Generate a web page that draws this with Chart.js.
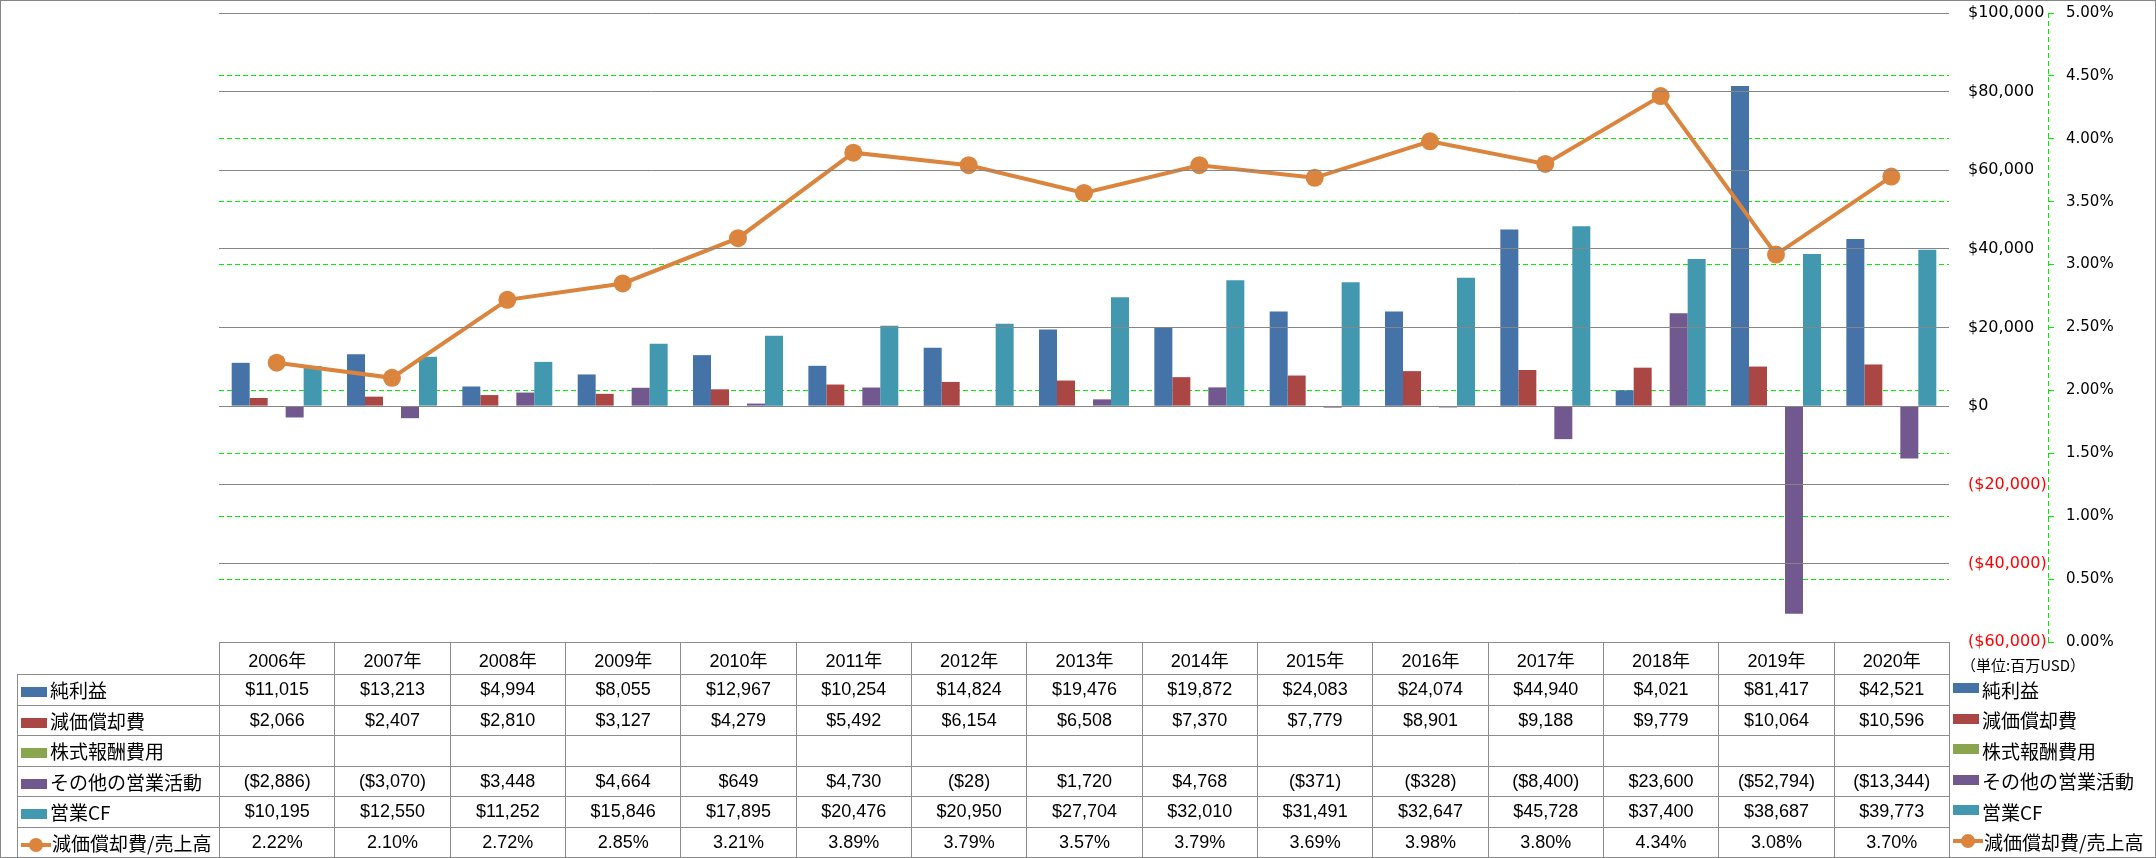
<!DOCTYPE html>
<html lang="ja">
<head>
<meta charset="utf-8">
<title>キャッシュフロー推移</title>
<script src="https://cdn.jsdelivr.net/npm/chart.js@4.4.0/dist/chart.umd.min.js"></script>
<style>
    html, body { margin: 0; padding: 0; background: #fff; }
    #wrap { position: relative; width: 2156px; height: 858px; overflow: hidden; }
    #chart { position: absolute; left: 0; top: 0; }
    #frame {
        position: absolute; left: 0; top: 0; width: 2156px; height: 858px;
        box-sizing: border-box; border: 1px solid #868686; pointer-events: none;
    }
    #dataTable {
        position: absolute; border-collapse: collapse; table-layout: fixed;
        font-family: "Liberation Sans", "Noto Sans CJK JP", sans-serif;
        font-size: 18px; color: #000;
    }
    #dataTable td {
        border: 1px solid #8c8c8c; padding: 0; text-align: center;
        white-space: nowrap; overflow: hidden;
    }
    #dataTable td.corner { border-top: none; border-left: none; }
    #dataTable td.name {
        text-align: left; padding-left: 3px;
        font-family: "Noto Sans CJK JP", sans-serif; font-size: 19px;
    }
    .key { display: inline-block; width: 26px; height: 10px; margin-right: 3px; vertical-align: middle; position: relative; top: -1px; }
    .lineKey { display: inline-block; width: 30px; height: 14px; margin-right: 1px; vertical-align: middle; position: relative; top: -1px; }
    .lineKey::before { content: ""; position: absolute; left: 0; right: 0; top: 5px; height: 4px; background: #DB843D; }
    .lineKey::after { content: ""; position: absolute; left: 8px; top: 0; width: 14px; height: 14px; border-radius: 50%; background: #DB843D; }
    #sideLegend {
        position: absolute; font-family: "Noto Sans CJK JP", sans-serif; font-size: 19px; color: #000;
    }
    #sideLegend div { white-space: nowrap; display: flex; align-items: center; }
    #unit {
        position: absolute; font-family: "Noto Sans CJK JP", sans-serif; font-size: 15px; color: #000;
        white-space: nowrap;
    }
</style>
</head>
<body>
<div id="wrap">
    <canvas id="chart" width="2156" height="858"></canvas>
    <table id="dataTable"></table>
    <div id="sideLegend"></div>
    <div id="unit">（単位:百万USD）</div>
    <div id="frame"></div>
</div>
<script>
// ---- データ (単位: 百万USD) ----
const years = ['2006年', '2007年', '2008年', '2009年', '2010年', '2011年', '2012年', '2013年',
               '2014年', '2015年', '2016年', '2017年', '2018年', '2019年', '2020年'];
const netIncome    = [11015, 13213, 4994, 8055, 12967, 10254, 14824, 19476, 19872, 24083, 24074, 44940, 4021, 81417, 42521];
const depreciation = [2066, 2407, 2810, 3127, 4279, 5492, 6154, 6508, 7370, 7779, 8901, 9188, 9779, 10064, 10596];
const stockComp    = [null, null, null, null, null, null, null, null, null, null, null, null, null, null, null];
const otherOps     = [-2886, -3070, 3448, 4664, 649, 4730, -28, 1720, 4768, -371, -328, -8400, 23600, -52794, -13344];
const operatingCF  = [10195, 12550, 11252, 15846, 17895, 20476, 20950, 27704, 32010, 31491, 32647, 45728, 37400, 38687, 39773];
const deprToSales  = [2.22, 2.10, 2.72, 2.85, 3.21, 3.89, 3.79, 3.57, 3.79, 3.69, 3.98, 3.80, 4.34, 3.08, 3.70];

// 軸の範囲
const usdMin = -60000, usdMax = 100000, usdStep = 20000;
const pctMin = 0, pctMax = 5, pctStep = 0.5;

// 色 (Excel 2007 系)
const COLORS = {
    net: '#4572A7',
    dep: '#AA4643',
    stock: '#89A54E',
    other: '#71588F',
    cf: '#4198AF',
    ratio: '#DB843D',
    grid: '#868686',
    green: '#00EE00'
};

function fmtUsd(v) {
    if (v === null || v === undefined) return '';
    const s = '$' + Math.abs(v).toLocaleString('en-US');
    return v < 0 ? '(' + s + ')' : s;
}
function fmtPct(v) {
    return v.toFixed(2) + '%';
}

const series = [
    { label: '純利益',           color: COLORS.net,   data: netIncome,    fmt: fmtUsd },
    { label: '減価償却費',       color: COLORS.dep,   data: depreciation, fmt: fmtUsd },
    { label: '株式報酬費用',     color: COLORS.stock, data: stockComp,    fmt: fmtUsd },
    { label: 'その他の営業活動', color: COLORS.other, data: otherOps,     fmt: fmtUsd },
    { label: '営業CF',           color: COLORS.cf,    data: operatingCF,  fmt: fmtUsd },
    { label: '減価償却費/売上高', color: COLORS.ratio, data: deprToSales,  fmt: fmtPct, line: true }
];

// 第2軸の点線 (軸線)
const dashedAxisLine = {
    id: 'dashedAxisLine',
    afterDraw(chart) {
        const s = chart.scales.y1;
        const ctx = chart.ctx;
        ctx.save();
        ctx.strokeStyle = COLORS.green;
        ctx.lineWidth = 1;
        ctx.setLineDash([5, 3]);
        ctx.beginPath();
        ctx.moveTo(Math.round(s.left) + 0.5, s.top);
        ctx.lineTo(Math.round(s.left) + 0.5, s.bottom);
        ctx.stroke();
        ctx.restore();
    }
};

// 軸幅を固定し、ラベルのはみ出し分の余白を無くす
function fixAxis(width) {
    return s => {
        s.width = width;
        s.paddingTop = 0;
        s.paddingBottom = 0;
    };
}

const barSets = series.filter(s => !s.line).map(s => ({
    type: 'bar',
    label: s.label,
    data: s.data,
    backgroundColor: s.color,
    borderWidth: 0,
    yAxisID: 'y',
    order: 1,
    categoryPercentage: 0.78,
    barPercentage: 1.0
}));

const ratio = series.find(s => s.line);
const lineSet = {
    type: 'line',
    label: ratio.label,
    data: ratio.data,
    borderColor: ratio.color,
    backgroundColor: ratio.color,
    borderWidth: 4,
    tension: 0,
    pointRadius: 9,
    pointBorderWidth: 0,
    pointBackgroundColor: ratio.color,
    yAxisID: 'y1',
    order: 0
};

const chart = new Chart(document.getElementById('chart').getContext('2d'), {
    data: { labels: years, datasets: [...barSets, lineSet] },
    options: {
        responsive: false,
        animation: false,
        layout: { padding: { left: 219, top: 13, right: 28, bottom: 216 } },
        plugins: { legend: { display: false }, tooltip: { enabled: false } },
        scales: {
            x: { display: false, offset: true },
            y: {
                position: 'right',
                weight: 0,
                min: usdMin, max: usdMax,
                afterFit: fixAxis(99),
                ticks: {
                    stepSize: usdStep,
                    padding: 19,
                    font: { family: 'DejaVu Sans', size: 16 },
                    color: c => (c.tick && c.tick.value < 0) ? '#FF0000' : '#000000',
                    callback: v => fmtUsd(v)
                },
                grid: { color: COLORS.grid, lineWidth: 1, drawTicks: false, z: 1 },
                border: { display: true, color: COLORS.grid, width: 1 }
            },
            y1: {
                position: 'right',
                weight: 1,
                min: pctMin, max: pctMax,
                afterFit: fixAxis(80),
                ticks: {
                    stepSize: pctStep,
                    padding: 12,
                    font: { family: 'DejaVu Sans', size: 15 },
                    color: '#000000',
                    callback: v => fmtPct(v)
                },
                grid: {
                    color: c => (c.tick && (c.tick.value === pctMin || c.tick.value === pctMax)) ? 'rgba(0,0,0,0)' : COLORS.green,
                    lineWidth: 1,
                    drawTicks: true, tickLength: 6, tickColor: COLORS.green
                },
                border: { display: false, dash: [5, 3] }
            }
        }
    },
    plugins: [dashedAxisLine]
});

// ---- データテーブル ----
function keyHtml(s) {
    return s.line ? '<span class="lineKey"></span>'
                  : '<span class="key" style="background:' + s.color + '"></span>';
}

function buildTable() {
    const area = chart.chartArea;
    const colW = (area.right - area.left) / years.length;
    const nameLeft = 17;
    const headH = 32, rowH = 30.5;
    const table = document.getElementById('dataTable');
    table.style.left = nameLeft + 'px';
    table.style.top = area.bottom + 'px';
    table.style.width = (area.right - nameLeft) + 'px';

    let html = '<colgroup><col style="width:' + (area.left - nameLeft) + 'px">';
    years.forEach(() => { html += '<col style="width:' + colW + 'px">'; });
    html += '</colgroup>';

    html += '<tr style="height:' + headH + 'px"><td class="corner"></td>';
    years.forEach(y => { html += '<td>' + y + '</td>'; });
    html += '</tr>';

    series.forEach(s => {
        html += '<tr style="height:' + rowH + 'px"><td class="name">' + keyHtml(s) + s.label + '</td>';
        s.data.forEach(v => { html += '<td>' + (v === null ? '' : s.fmt(v)) + '</td>'; });
        html += '</tr>';
    });
    table.innerHTML = html;

    // 右側の凡例
    const side = document.getElementById('sideLegend');
    side.style.left = (area.right + 4) + 'px';
    side.style.top = (area.bottom + headH) + 'px';
    side.innerHTML = series.map(s =>
        '<div style="height:' + rowH + 'px">' + keyHtml(s) + s.label + '</div>').join('');

    const unit = document.getElementById('unit');
    unit.style.left = (area.right + 12) + 'px';
    unit.style.top = (area.bottom + 12) + 'px';
}

buildTable();
</script>
</body>
</html>
